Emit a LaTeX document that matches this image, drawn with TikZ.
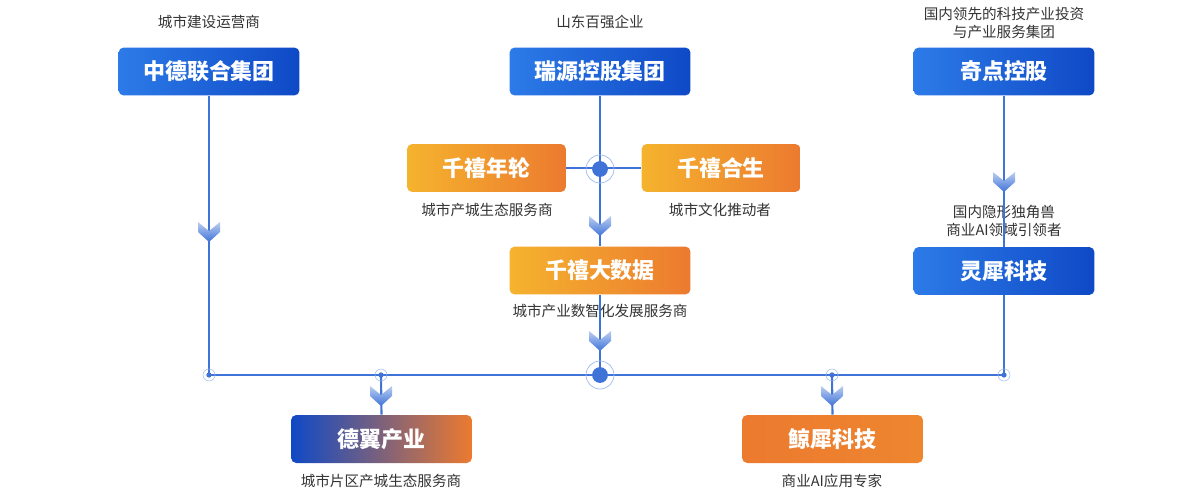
\documentclass[tikz,border=0pt]{standalone}
\usepackage{fontspec}
\setmainfont{Noto Sans CJK SC}
\usetikzlibrary{shadings}
\definecolor{ln}{HTML}{3F73D8}
\definecolor{bl}{HTML}{2C7BE8}
\definecolor{bd}{HTML}{0F49C6}
\definecolor{oy}{HTML}{F5B32E}
\definecolor{od}{HTML}{EC7A2F}
\definecolor{tx}{HTML}{333333}
\begin{document}
\begin{tikzpicture}[x=0.02cm,y=-0.02cm,
 box/.style={rounded corners=3pt,minimum width=3.62cm,minimum height=0.96cm,text=white,font=\fontsize{12.5}{14}\selectfont\bfseries,inner sep=0pt},
 bbox/.style={box,left color=bl,right color=bd},
 obox/.style={box,left color=oy,right color=od},
 mbox/.style={box,left color=bd,right color=od},
 rbox/.style={box,left color=od,right color=od!80!oy},
 lab/.style={text=tx,font=\fontsize{8.3}{10.5}\selectfont,align=center},
 cn/.style={draw=ln,line width=1.2pt},
 chev/.pic={\shade[top color=ln!35,bottom color=ln] (-11,0)--(0,9)--(11,0)--(11,10)--(0,20)--(-11,10)--cycle;},
 dot/.style={circle,fill=ln,inner sep=0pt,minimum size=#1},
]
\useasboundingbox (0,0) rectangle (1200,497);
% boxes
\node[bbox] (zd) at (209,71.5) {中德联合集团};
\node[bbox] (ry) at (600,71.5) {瑞源控股集团};
\node[bbox] (qd) at (1004,71.5) {奇点控股};
\node[bbox] (lx) at (1004,271) {灵犀科技};
\node[obox,minimum width=3.18cm] (nl) at (486.5,168) {千禧年轮};
\node[obox,minimum width=3.18cm] (hs) at (721,168) {千禧合生};
\node[obox] (dsj) at (600,270.5) {千禧大数据};
\node[mbox] (dy) at (381.5,439) {德翼产业};
\node[rbox] (jx) at (832.5,439) {鲸犀科技};
% labels
\node[lab] at (209,22) {城市建设运营商};
\node[lab] at (600,22) {山东百强企业};
\node[lab] at (1004,23) {国内领先的科技产业投资\\与产业服务集团};
\node[lab] at (487,210) {城市产城生态服务商};
\node[lab] at (720,210) {城市文化推动者};
\node[lab] at (1004,221) {国内隐形独角兽\\商业AI领域引领者};
\node[lab] at (600,311) {城市产业数智化发展服务商};
\node[lab] at (381,481) {城市片区产城生态服务商};
\node[lab] at (832,481) {商业AI应用专家};
% coordinates
\coordinate (j1) at (600,169);
\coordinate (j2) at (600,375);
\coordinate (cL) at (209,375);
\coordinate (cR) at (1004,375);
\coordinate (c1) at (381,375);
\coordinate (c2) at (832,375);
% connectors
\draw[cn] (zd.south) -- (cL) -- (cR) -- (lx.south);
\draw[cn] (qd.south) -- (lx.north);
\draw[cn] (ry.south) -- (dsj.north);
\draw[cn] (nl.east) -- (hs.west);
\draw[cn] (dsj.south) -- (j2);
\draw[cn] (c1) -- (dy.north);
\draw[cn] (c2) -- (jx.north);
% junctions
\foreach \p in {cL,cR,c1,c2}{\node[dot=3pt] at (\p){};\draw[ln!50,line width=0.3pt] (\p) circle (6);}
\foreach \p in {j1,j2}{\node[dot=9pt] at (\p){};\draw[ln!50,line width=0.4pt] (\p) circle (14);}
% chevrons
\pic at (209,222) {chev};
\pic at (600,216) {chev};
\pic at (1004,172) {chev};
\pic at (600,331) {chev};
\pic at (381,386) {chev};
\pic at (832,386) {chev};
\end{tikzpicture}
\end{document}
